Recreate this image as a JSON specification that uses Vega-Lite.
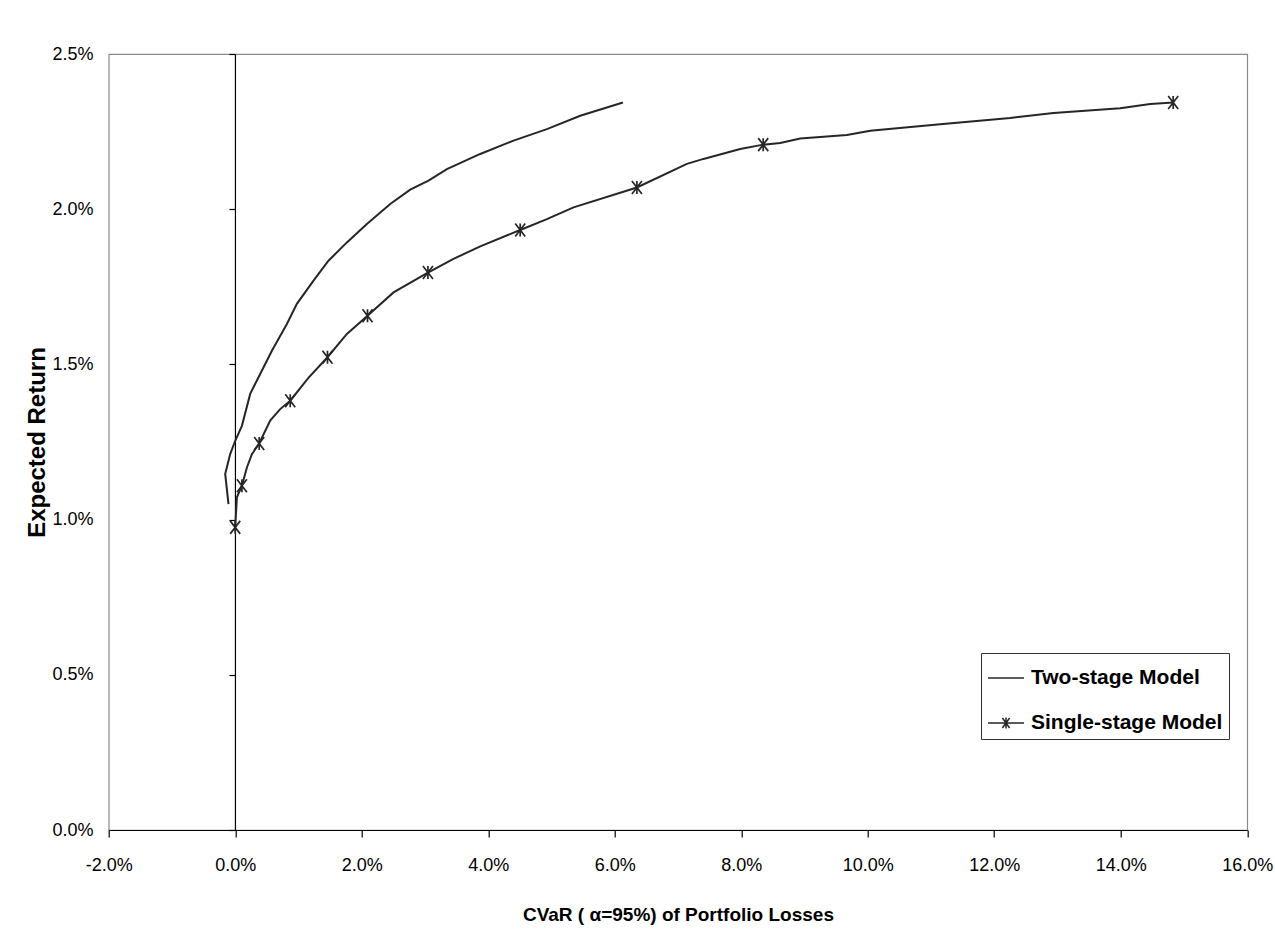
{
  "$schema": "https://vega.github.io/schema/vega-lite/v6.json",
  "width": 1138.5,
  "height": 776,
  "autosize": {"type": "none"},
  "padding": {"left": 108.7, "top": 54, "right": 27.8, "bottom": 112},
  "background": "white",
  "config": {
    "locale": {"number": {"decimal": ".", "thousands": ",", "grouping": [3], "currency": ["$", ""], "minus": "-"}},
    "view": {"stroke": "#8a8a8a", "strokeWidth": 1.2},
    "axis": {"grid": false}
  },
  "data": {
    "values": [
      {"series": "Two-stage Model", "x": -0.00106, "y": 0.01050, "marker": 0},
      {"series": "Two-stage Model", "x": -0.00158, "y": 0.01147, "marker": 0},
      {"series": "Two-stage Model", "x": -0.00079, "y": 0.01211, "marker": 0},
      {"series": "Two-stage Model", "x": 0.00000, "y": 0.01254, "marker": 0},
      {"series": "Two-stage Model", "x": 0.00106, "y": 0.01302, "marker": 0},
      {"series": "Two-stage Model", "x": 0.00237, "y": 0.01405, "marker": 0},
      {"series": "Two-stage Model", "x": 0.00395, "y": 0.01469, "marker": 0},
      {"series": "Two-stage Model", "x": 0.00580, "y": 0.01544, "marker": 0},
      {"series": "Two-stage Model", "x": 0.00817, "y": 0.01630, "marker": 0},
      {"series": "Two-stage Model", "x": 0.00975, "y": 0.01695, "marker": 0},
      {"series": "Two-stage Model", "x": 0.01238, "y": 0.01770, "marker": 0},
      {"series": "Two-stage Model", "x": 0.01475, "y": 0.01834, "marker": 0},
      {"series": "Two-stage Model", "x": 0.01766, "y": 0.01893, "marker": 0},
      {"series": "Two-stage Model", "x": 0.02082, "y": 0.01952, "marker": 0},
      {"series": "Two-stage Model", "x": 0.02451, "y": 0.02017, "marker": 0},
      {"series": "Two-stage Model", "x": 0.02767, "y": 0.02063, "marker": 0},
      {"series": "Two-stage Model", "x": 0.03056, "y": 0.02092, "marker": 0},
      {"series": "Two-stage Model", "x": 0.03347, "y": 0.02129, "marker": 0},
      {"series": "Two-stage Model", "x": 0.03874, "y": 0.02178, "marker": 0},
      {"series": "Two-stage Model", "x": 0.04400, "y": 0.02221, "marker": 0},
      {"series": "Two-stage Model", "x": 0.04928, "y": 0.02258, "marker": 0},
      {"series": "Two-stage Model", "x": 0.05455, "y": 0.02301, "marker": 0},
      {"series": "Two-stage Model", "x": 0.06130, "y": 0.02344, "marker": 0},
      {"series": "Single-stage Model", "x": 0.00000, "y": 0.00975, "marker": 1},
      {"series": "Single-stage Model", "x": 0.00027, "y": 0.01072, "marker": 0},
      {"series": "Single-stage Model", "x": 0.00106, "y": 0.01109, "marker": 1},
      {"series": "Single-stage Model", "x": 0.00185, "y": 0.01168, "marker": 0},
      {"series": "Single-stage Model", "x": 0.00264, "y": 0.01211, "marker": 0},
      {"series": "Single-stage Model", "x": 0.00379, "y": 0.01245, "marker": 1},
      {"series": "Single-stage Model", "x": 0.00553, "y": 0.01319, "marker": 0},
      {"series": "Single-stage Model", "x": 0.00711, "y": 0.01356, "marker": 0},
      {"series": "Single-stage Model", "x": 0.00870, "y": 0.01383, "marker": 1},
      {"series": "Single-stage Model", "x": 0.01154, "y": 0.01456, "marker": 0},
      {"series": "Single-stage Model", "x": 0.01459, "y": 0.01523, "marker": 1},
      {"series": "Single-stage Model", "x": 0.01766, "y": 0.01598, "marker": 0},
      {"series": "Single-stage Model", "x": 0.02092, "y": 0.01657, "marker": 1},
      {"series": "Single-stage Model", "x": 0.02503, "y": 0.01732, "marker": 0},
      {"series": "Single-stage Model", "x": 0.03047, "y": 0.01796, "marker": 1},
      {"series": "Single-stage Model", "x": 0.03451, "y": 0.01840, "marker": 0},
      {"series": "Single-stage Model", "x": 0.03874, "y": 0.01880, "marker": 0},
      {"series": "Single-stage Model", "x": 0.04506, "y": 0.01933, "marker": 1},
      {"series": "Single-stage Model", "x": 0.04928, "y": 0.01968, "marker": 0},
      {"series": "Single-stage Model", "x": 0.05349, "y": 0.02006, "marker": 0},
      {"series": "Single-stage Model", "x": 0.06351, "y": 0.02070, "marker": 1},
      {"series": "Single-stage Model", "x": 0.07141, "y": 0.02146, "marker": 0},
      {"series": "Single-stage Model", "x": 0.07404, "y": 0.02162, "marker": 0},
      {"series": "Single-stage Model", "x": 0.07984, "y": 0.02194, "marker": 0},
      {"series": "Single-stage Model", "x": 0.08348, "y": 0.02208, "marker": 1},
      {"series": "Single-stage Model", "x": 0.08617, "y": 0.02213, "marker": 0},
      {"series": "Single-stage Model", "x": 0.08933, "y": 0.02228, "marker": 0},
      {"series": "Single-stage Model", "x": 0.09671, "y": 0.02239, "marker": 0},
      {"series": "Single-stage Model", "x": 0.10040, "y": 0.02253, "marker": 0},
      {"series": "Single-stage Model", "x": 0.11146, "y": 0.02274, "marker": 0},
      {"series": "Single-stage Model", "x": 0.12253, "y": 0.02294, "marker": 0},
      {"series": "Single-stage Model", "x": 0.12938, "y": 0.02310, "marker": 0},
      {"series": "Single-stage Model", "x": 0.13992, "y": 0.02325, "marker": 0},
      {"series": "Single-stage Model", "x": 0.14466, "y": 0.02339, "marker": 0},
      {"series": "Single-stage Model", "x": 0.14830, "y": 0.02344, "marker": 1}
    ]
  },
  "encoding": {
    "x": {
      "field": "x", "type": "quantitative",
      "scale": {"domain": [-0.02, 0.16], "nice": false, "zero": false},
      "axis": {
        "values": [-0.02, 0, 0.02, 0.04, 0.06, 0.08, 0.1, 0.12, 0.14, 0.16],
        "format": ".1%",
        "title": "CVaR ( α=95%) of Portfolio Losses",
        "domainColor": "black", "domainWidth": 1.2,
        "tickColor": "black", "tickSize": 7, "tickWidth": 1.2,
        "labelFont": "Liberation Sans", "labelFontSize": 18, "labelColor": "black",
        "labelPadding": 19, "labelFlush": false, "labelOverlap": false,
        "titleFont": "Liberation Sans", "titleFontSize": 19, "titleFontWeight": "bold", "titleColor": "black",
        "titlePadding": 31
      }
    },
    "y": {
      "field": "y", "type": "quantitative",
      "scale": {"domain": [0, 0.025], "nice": false, "zero": false},
      "axis": {
        "values": [0, 0.005, 0.01, 0.015, 0.02, 0.025],
        "format": ".1%",
        "title": "Expected Return",
        "offset": -126.25,
        "domainColor": "black", "domainWidth": 1.2,
        "tickColor": "black", "tickSize": 6, "tickWidth": 1.2,
        "labelFont": "Liberation Sans", "labelFontSize": 18, "labelColor": "black",
        "labelPadding": 136, "labelOverlap": false,
        "titleFont": "Liberation Sans", "titleFontSize": 24, "titleFontWeight": "bold", "titleColor": "black",
        "titlePadding": 2
      }
    }
  },
  "layer": [
    {
      "mark": {"type": "line", "stroke": "#262626", "strokeWidth": 2},
      "encoding": {
        "detail": {"field": "series", "type": "nominal"},
        "order": {"field": "y", "type": "quantitative"}
      }
    },
    {
      "transform": [{"filter": "datum.marker == 1"}],
      "mark": {
        "type": "point",
        "shape": "M-0.77,-1L0.77,1M-0.77,1L0.77,-1M0,-1L0,1",
        "size": 169, "filled": false, "stroke": "#262626", "strokeWidth": 1.7, "opacity": 1
      }
    },
    {
      "mark": {"type": "point", "opacity": 0, "color": "#262626", "filled": false},
      "encoding": {
        "shape": {
          "field": "series", "type": "nominal",
          "scale": {
            "domain": ["Two-stage Model", "Single-stage Model"],
            "range": ["M-1,0L1,0", "M-1,0L1,0M-0.2,-0.28L0.2,0.28M-0.2,0.28L0.2,-0.28M0,-0.3L0,0.3"]
          },
          "legend": {
            "title": null,
            "orient": "none", "legendX": 872.3, "legendY": 599,
            "padding": 6, "strokeColor": "#333", "fillColor": "white",
            "symbolSize": 1296, "symbolStrokeWidth": 1.5, "symbolStrokeColor": "#262626",
            "labelFont": "Liberation Sans", "labelFontSize": 21, "labelFontWeight": "bold", "labelColor": "black",
            "labelOffset": 6, "rowPadding": 16, "labelLimit": 400,
            "encode": {
              "symbols": {"update": {"opacity": {"value": 1}, "stroke": {"value": "#262626"}, "strokeWidth": {"value": 1.5}, "fill": {"value": "transparent"}}}
            }
          }
        }
      }
    }
  ]
}
